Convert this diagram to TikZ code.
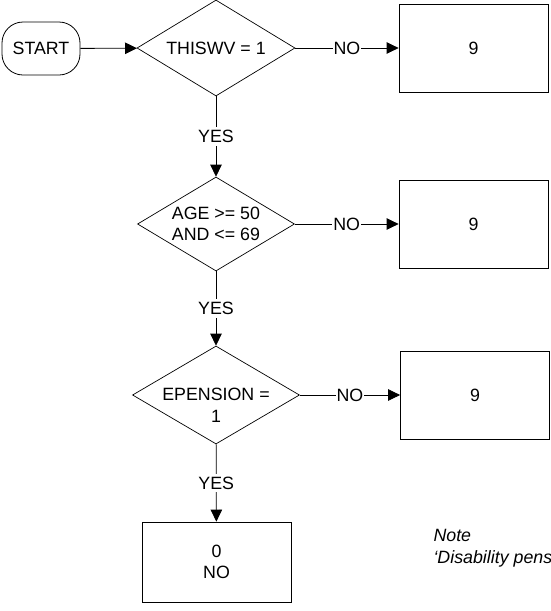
\documentclass[tikz,border=0pt]{standalone}
\usepackage{fontspec}
\setmainfont{Liberation Sans}
\usetikzlibrary{arrows.meta,shapes.geometric}

\begin{document}
\begin{tikzpicture}[x=1pt,y=-1pt,
  font=\fontsize{17.8}{21.5}\selectfont,
  decision/.style={draw,line width=0.7pt,shape=diamond,inner sep=0pt,align=center},
  outbox/.style={draw,line width=0.8pt,minimum width=149pt,minimum height=88pt,inner sep=0pt,align=center},
  flow/.style={draw,line width=0.8pt,-{Triangle[length=12pt,width=11.5pt]}},
  lbl/.style={fill=white,inner sep=1pt}]
  \useasboundingbox (0,0) rectangle (550,611);
  % start and the three tests
  \node[draw,line width=0.8pt,rounded corners=21pt,minimum width=78pt,minimum height=53pt] (start) at (41,48.5) {START};
  \node[decision,aspect=1.65,minimum width=158pt,minimum height=96pt] (q1) at (216,48) {THISWV = 1};
  \node[decision,aspect=1.67,minimum width=157pt,minimum height=94pt] (q2) at (216,224) {AGE >= 50\\AND <= 69};
  \node[decision,aspect=1.7,minimum width=167pt,minimum height=98pt,text depth=4pt] (q3) at (216,395)
    {\begin{tabular}[t]{@{}c@{}}EPENSION =\\1\end{tabular}};
  % outcomes
  \node[outbox] (o1) at (473.5,48) {9};
  \node[outbox] (o2) at (473.5,224) {9};
  \node[outbox] (o3) at (475,395) {9};
  \node[outbox,minimum height=80pt] (o4) at (216.5,562) {0\\NO};
  % connectors
  \draw[flow] (start) -- (q1);
  \draw[flow] (q1) -- node[lbl] {NO} (o1);
  \draw[flow] (q2) -- node[lbl] {NO} (o2);
  \draw[flow] (q3) -- node[lbl] {NO} (o3);
  \draw[flow] (q1) -- node[lbl,inner sep=3pt] {YES} (q2);
  \draw[flow] (q2) -- node[lbl,inner sep=3pt] {YES} (q3);
  \draw[flow] (q3) -- node[lbl,inner sep=3pt] {YES} (o4);
  \node[anchor=west,align=left,font=\fontsize{17.8}{22}\selectfont\itshape] (note) at (430,548)
    {Note\\‘Disability pens};
\end{tikzpicture}
\end{document}
